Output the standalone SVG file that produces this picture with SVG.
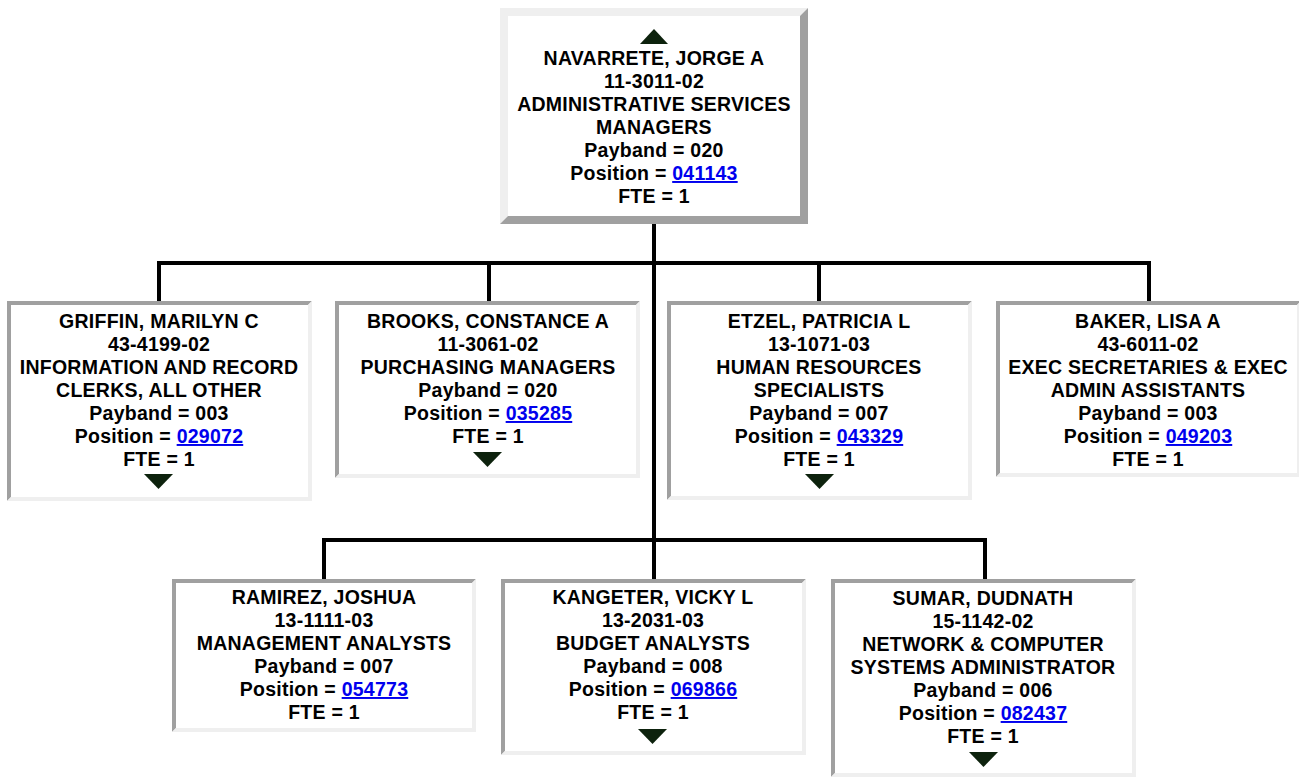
<svg xmlns="http://www.w3.org/2000/svg" width="1299" height="782" viewBox="0 0 1299 782">
<style>
.t{font-family:"Liberation Sans",Arial,sans-serif;font-weight:bold;font-size:19.5px;letter-spacing:0.25px;fill:#000;text-anchor:middle}
.lk{fill:#0000ee;text-decoration:underline}
.bg{fill:#fff}
.dk{fill:#a0a0a0}
.lt{fill:#efefef}
.ar{fill:#0d220d}
.cn{stroke:#000;stroke-width:4;fill:none}
</style>
<rect width="1299" height="782" fill="#fff"/>
<g id="connectors">
<path class="cn" d="M654 224V540"/>
<path class="cn" d="M159 301V263H1149V301"/>
<path class="cn" d="M489 263V301"/>
<path class="cn" d="M819 263V301"/>
<path class="cn" d="M324 579V540H985V579"/>
<path class="cn" d="M654 540V579"/>
</g>
<g id="navarrete">
<rect class="bg" x="500" y="8" width="308" height="216"/>
<polygon class="lt" points="500,8 808,8 800,16 508,16 508,216 500,224"/>
<polygon class="dk" points="808,8 808,224 500,224 508,216 800,216 800,16"/>
<polygon class="ar" points="640,44 668,44 654,29"/>
<text class="t" x="654" y="65">NAVARRETE, JORGE A</text>
<text class="t" x="654" y="88">11-3011-02</text>
<text class="t" x="654" y="111">ADMINISTRATIVE SERVICES</text>
<text class="t" x="654" y="134">MANAGERS</text>
<text class="t" x="654" y="157">Payband = 020</text>
<text class="t" x="654" y="180">Position = <tspan class="lk">041143</tspan></text>
<text class="t" x="654" y="203">FTE = 1</text>
</g>
<g id="griffin">
<rect class="bg" x="7" y="301" width="305" height="200"/>
<polygon class="dk" points="7,301 312,301 308,305 11,305 11,497 7,501"/>
<polygon class="lt" points="312,301 312,501 7,501 11,497 308,497 308,305"/>
<text class="t" x="159" y="328">GRIFFIN, MARILYN C</text>
<text class="t" x="159" y="351">43-4199-02</text>
<text class="t" x="159" y="374">INFORMATION AND RECORD</text>
<text class="t" x="159" y="397">CLERKS, ALL OTHER</text>
<text class="t" x="159" y="420">Payband = 003</text>
<text class="t" x="159" y="443">Position = <tspan class="lk">029072</tspan></text>
<text class="t" x="159" y="466">FTE = 1</text>
<polygon class="ar" points="144,474 173,474 158.5,489"/>
</g>
<g id="brooks">
<rect class="bg" x="335" y="301" width="305" height="177"/>
<polygon class="dk" points="335,301 640,301 636,305 339,305 339,474 335,478"/>
<polygon class="lt" points="640,301 640,478 335,478 339,474 636,474 636,305"/>
<text class="t" x="488" y="328">BROOKS, CONSTANCE A</text>
<text class="t" x="488" y="351">11-3061-02</text>
<text class="t" x="488" y="374">PURCHASING MANAGERS</text>
<text class="t" x="488" y="397">Payband = 020</text>
<text class="t" x="488" y="420">Position = <tspan class="lk">035285</tspan></text>
<text class="t" x="488" y="443">FTE = 1</text>
<polygon class="ar" points="473,452 502,452 487.5,467"/>
</g>
<g id="etzel">
<rect class="bg" x="667" y="301" width="305" height="199"/>
<polygon class="dk" points="667,301 972,301 968,305 671,305 671,496 667,500"/>
<polygon class="lt" points="972,301 972,500 667,500 671,496 968,496 968,305"/>
<text class="t" x="819" y="328">ETZEL, PATRICIA L</text>
<text class="t" x="819" y="351">13-1071-03</text>
<text class="t" x="819" y="374">HUMAN RESOURCES</text>
<text class="t" x="819" y="397">SPECIALISTS</text>
<text class="t" x="819" y="420">Payband = 007</text>
<text class="t" x="819" y="443">Position = <tspan class="lk">043329</tspan></text>
<text class="t" x="819" y="466">FTE = 1</text>
<polygon class="ar" points="805,474 834,474 819.5,489"/>
</g>
<g id="baker">
<rect class="bg" x="996" y="301" width="305" height="176"/>
<polygon class="dk" points="996,301 1301,301 1297,305 1000,305 1000,473 996,477"/>
<polygon class="lt" points="1301,301 1301,477 996,477 1000,473 1297,473 1297,305"/>
<text class="t" x="1148" y="328">BAKER, LISA A</text>
<text class="t" x="1148" y="351">43-6011-02</text>
<text class="t" x="1148" y="374">EXEC SECRETARIES &amp; EXEC</text>
<text class="t" x="1148" y="397">ADMIN ASSISTANTS</text>
<text class="t" x="1148" y="420">Payband = 003</text>
<text class="t" x="1148" y="443">Position = <tspan class="lk">049203</tspan></text>
<text class="t" x="1148" y="466">FTE = 1</text>
</g>
<g id="ramirez">
<rect class="bg" x="172" y="579" width="304" height="153"/>
<polygon class="dk" points="172,579 476,579 472,583 176,583 176,728 172,732"/>
<polygon class="lt" points="476,579 476,732 172,732 176,728 472,728 472,583"/>
<text class="t" x="324" y="604">RAMIREZ, JOSHUA</text>
<text class="t" x="324" y="627">13-1111-03</text>
<text class="t" x="324" y="650">MANAGEMENT ANALYSTS</text>
<text class="t" x="324" y="673">Payband = 007</text>
<text class="t" x="324" y="696">Position = <tspan class="lk">054773</tspan></text>
<text class="t" x="324" y="719">FTE = 1</text>
</g>
<g id="kangeter">
<rect class="bg" x="501" y="579" width="305" height="176"/>
<polygon class="dk" points="501,579 806,579 802,583 505,583 505,751 501,755"/>
<polygon class="lt" points="806,579 806,755 501,755 505,751 802,751 802,583"/>
<text class="t" x="653" y="604">KANGETER, VICKY L</text>
<text class="t" x="653" y="627">13-2031-03</text>
<text class="t" x="653" y="650">BUDGET ANALYSTS</text>
<text class="t" x="653" y="673">Payband = 008</text>
<text class="t" x="653" y="696">Position = <tspan class="lk">069866</tspan></text>
<text class="t" x="653" y="719">FTE = 1</text>
<polygon class="ar" points="638,729 667,729 652.5,744"/>
</g>
<g id="sumar">
<rect class="bg" x="831" y="579" width="305" height="198"/>
<polygon class="dk" points="831,579 1136,579 1132,583 835,583 835,773 831,777"/>
<polygon class="lt" points="1136,579 1136,777 831,777 835,773 1132,773 1132,583"/>
<text class="t" x="983" y="605">SUMAR, DUDNATH</text>
<text class="t" x="983" y="628">15-1142-02</text>
<text class="t" x="983" y="651">NETWORK &amp; COMPUTER</text>
<text class="t" x="983" y="674">SYSTEMS ADMINISTRATOR</text>
<text class="t" x="983" y="697">Payband = 006</text>
<text class="t" x="983" y="720">Position = <tspan class="lk">082437</tspan></text>
<text class="t" x="983" y="743">FTE = 1</text>
<polygon class="ar" points="969,752 998,752 983.5,767"/>
</g>
</svg>
